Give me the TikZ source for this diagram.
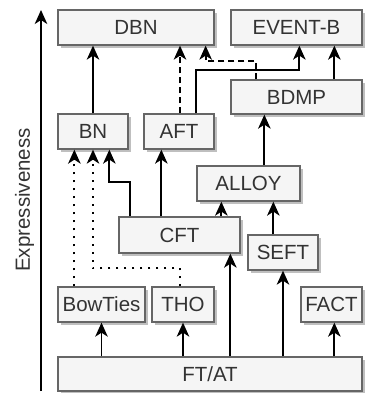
\documentclass[tikz,border=0pt]{standalone}
\usepackage{fontspec}
\setmainfont{Liberation Sans}
\usetikzlibrary{arrows.meta,shadows}
\definecolor{boxfill}{HTML}{F5F5F5}
\definecolor{boxline}{HTML}{666666}
\definecolor{txt}{HTML}{333333}
\tikzset{
  box/.style={draw=boxline, line width=1.3pt, fill=boxfill, text=txt,
    font=\fontsize{20.5}{24}\selectfont, inner sep=0pt, anchor=center,
    drop shadow={shadow xshift=3pt, shadow yshift=-3pt, fill=black!25, opacity=1}},
  arr/.style={-{Stealth[length=14pt,width=12.5pt,inset=4pt]}, line width=1.8pt, black},
  dashedarr/.style={arr, dash pattern=on 6pt off 4pt},
  dottedarr/.style={arr, line width=2pt, dash pattern=on 2pt off 6pt},
}
\begin{document}
\begin{tikzpicture}[x=1pt,y=-1pt]
\useasboundingbox (0,0) rectangle (364,393);
% nodes
\node[box, minimum width=156pt, minimum height=35pt] (DBN) at (136,27.5) {DBN};
\node[box, minimum width=131pt, minimum height=35pt] (EVENTB) at (296.5,27.5) {EVENT-B};
\node[box, minimum width=131pt, minimum height=34pt] (BDMP) at (296.5,97) {BDMP};
\node[box, minimum width=70pt, minimum height=35pt] (BN) at (93,131.5) {BN};
\node[box, minimum width=70pt, minimum height=35pt] (AFT) at (179,131.5) {AFT};
\node[box, minimum width=103pt, minimum height=35pt] (ALLOY) at (248.5,183.5) {ALLOY};
\node[box, minimum width=121pt, minimum height=36pt] (CFT) at (179.5,235) {CFT};
\node[box, minimum width=70pt, minimum height=35pt] (SEFT) at (283,252.5) {SEFT};
\node[box, minimum width=87pt, minimum height=35pt] (BowTies) at (101.5,304.5) {BowTies};
\node[box, minimum width=62pt, minimum height=35pt] (THO) at (183,304.5) {THO};
\node[box, minimum width=61pt, minimum height=35pt] (FACT) at (331.5,304.5) {FACT};
\node[box, minimum width=304pt, minimum height=34pt] (FTAT) at (210,374) {FT/AT};
% axis
\coordinate (axb) at (41,391);
\coordinate (axt) at (41,10);
\draw[arr] (axb) -- (axt);
\node[rotate=90, text=txt, font=\fontsize{20.5}{24}\selectfont, inner sep=0pt] (lab) at (24.5,200) {Expressiveness};
% helper coordinates
\coordinate (a2) at ([xshift=1pt]AFT.north);
\coordinate (a3s) at ([xshift=26pt]BDMP.north west);
\coordinate (a3e) at ([xshift=-9pt]DBN.south east);
\coordinate (a4s) at ([xshift=17pt]AFT.north);
\coordinate (a4e) at ([xshift=69pt]EVENTB.south west);
\coordinate (a5) at ([xshift=104pt]BDMP.north west);
\coordinate (a6) at ([xshift=68pt]ALLOY.north west);
\coordinate (a7) at ([xshift=26pt]SEFT.north west);
\coordinate (a8) at ([xshift=103pt]CFT.north west);
\coordinate (a9) at ([xshift=43pt]CFT.north west);
\coordinate (a10s) at ([xshift=12pt]CFT.north west);
\coordinate (a10e) at ([xshift=52pt]BN.south west);
\coordinate (a11) at ([xshift=17pt]BowTies.north west);
\coordinate (a12s) at ([xshift=29pt]THO.north west);
\coordinate (a15) at ([xshift=112pt]CFT.south west);
\coordinate (a17) at ([xshift=34pt]FACT.south west);
% connectors
\draw[arr] (BN.north) -- (BN.north |- DBN.south);
\draw[dashedarr] (a2) -- (a2 |- DBN.south);
\draw[dashedarr] (a3s) -- ++(0,-18) -| (a3e);
\draw[arr] (a4s) -- ++(0,-43) -| (a4e);
\draw[arr] (a5) -- (a5 |- EVENTB.south);
\draw[arr] (a6) -- (a6 |- BDMP.south);
\draw[arr] (a7) -- (a7 |- ALLOY.south);
\draw[arr] (a8) -- (a8 |- ALLOY.south);
\draw[arr] (a9) -- (a9 |- AFT.south);
\draw[arr] (a10s) -- ++(0,-34) -| (a10e);
\draw[dottedarr] (a11) -- (a11 |- BN.south);
\draw[dottedarr] (a12s) -- ++(0,-18) -| (BN.south);
\draw[arr] (BowTies.south |- FTAT.north) -- (BowTies.south);
\draw[arr] (THO.south |- FTAT.north) -- (THO.south);
\draw[arr] (a15 |- FTAT.north) -- (a15);
\draw[arr] (SEFT.south |- FTAT.north) -- (SEFT.south);
\draw[arr] (a17 |- FTAT.north) -- (a17);
\end{tikzpicture}
\end{document}
